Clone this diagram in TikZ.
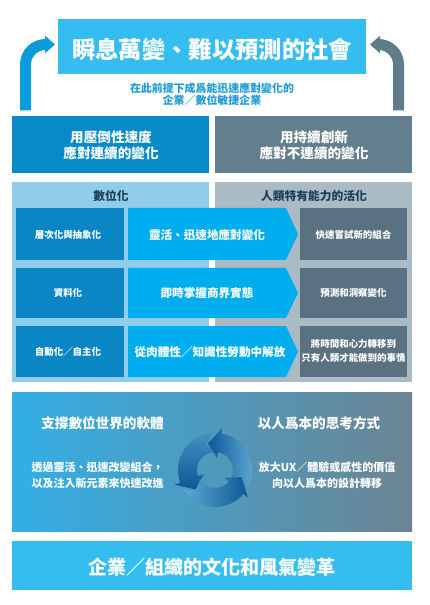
\documentclass[tikz,border=0pt]{standalone}
\usepackage{fontspec}
\setmainfont{Noto Sans CJK TC}
\usetikzlibrary{arrows.meta}
\definecolor{skyblue}{HTML}{35BDEF}
\definecolor{arrowblue}{HTML}{0A9BDB}
\definecolor{arrowgray}{HTML}{607C8B}
\definecolor{subblue}{HTML}{1E9BD7}
\definecolor{deepblue}{HTML}{0889C8}
\definecolor{slate}{HTML}{637E8C}
\definecolor{paleblue}{HTML}{8FCDEB}
\definecolor{palegray}{HTML}{AABBC5}
\definecolor{headtext}{HTML}{1F3F58}
\definecolor{rowblue}{HTML}{0A86C4}
\definecolor{chevron}{HTML}{00ADEE}
\definecolor{rowgray}{HTML}{5A7181}
\definecolor{cycdark}{HTML}{0B5796}
\definecolor{cyclight}{HTML}{5FA9D2}

\tikzset{every picture/.style={line width=0.75pt}}
\tikzset{
  wtext/.style={inner sep=0.75pt, text=white, align=center, font=\bfseries},
  uparrow/.style={line width=8.25pt, rounded corners=15pt, -{Triangle[length=7.5pt,width=12.75pt]}}
}

\begin{document}
\begin{tikzpicture}[x=0.75pt,y=0.75pt,yscale=-1,xscale=1]
\path[use as bounding box] (0,0) rectangle (429,605);
%Shape: Rectangle (title)
\fill [skyblue] (58,19) rectangle (366,74);
%Curve Lines (left up arrow)
\coordinate (la0) at (25.5,110.5);
\coordinate (la1) at (25.5,44.5);
\coordinate (la2) at (55,44.5);
\draw [uparrow, arrowblue] (la0) -- (la1) -- (la2);
%Curve Lines (right up arrow)
\coordinate (ra0) at (398.5,110.5);
\coordinate (ra1) at (398.5,44.5);
\coordinate (ra2) at (370,44.5);
\draw [uparrow, arrowgray] (ra0) -- (ra1) -- (ra2);
%Shape: Rectangle (two ways)
\fill [deepblue] (12,116) rectangle (209,173);
\fill [slate] (215,116) rectangle (412,173);
%Shape: Rectangle (panels)
\fill [paleblue] (12,182) rectangle (209,382);
\fill [palegray] (215,182) rectangle (412,382);
%Shape: Rectangle (left rows)
\fill [rowblue] (16,208) rectangle (124,260);
\fill [rowblue] (16,268) rectangle (124,318);
\fill [rowblue] (16,326) rectangle (124,377);
%Shape: Rectangle (right rows)
\fill [rowgray] (300,208) rectangle (407,260);
\fill [rowgray] (300,268) rectangle (407,318);
\fill [rowgray] (300,326) rectangle (407,377);
%Shape: Chevrons
\fill [chevron] (128,208) -- (286,208) -- (298,234) -- (286,260) -- (128,260) -- cycle ;
\fill [chevron] (128,268) -- (286,268) -- (298,293) -- (286,318) -- (128,318) -- cycle ;
\fill [chevron] (128,326) -- (286,326) -- (298,351.5) -- (286,377) -- (128,377) -- cycle ;
%Shape: Rectangle (gradient panel)
\shade [left color={rgb,255:red,50;green,175;blue,230}, middle color={rgb,255:red,62;green,166;blue,207}, right color={rgb,255:red,108;green,132;blue,146}] (12,392) rectangle (412,531);
%Shape: Cycle arrows
\begin{scope}[shift={(215,470)},yscale=-1]
\shade [left color=cycdark, right color=cyclight] (-27:37) arc[start angle=-27, end angle=80, radius=37] -- (80:43) -- (105:27.5) -- (80:12) -- (80:18) arc[start angle=80, end angle=-27, radius=18] -- (-11:27.5) -- cycle ;
\shade [top color=cyclight!70!cycdark, bottom color=cycdark] (93:37) arc[start angle=93, end angle=200, radius=37] -- (200:43) -- (225:27.5) -- (200:12) -- (200:18) arc[start angle=200, end angle=93, radius=18] -- (109:27.5) -- cycle ;
\shade [left color=cyclight, right color=cycdark] (213:37) arc[start angle=213, end angle=320, radius=37] -- (320:43) -- (345:27.5) -- (320:12) -- (320:18) arc[start angle=320, end angle=213, radius=18] -- (229:27.5) -- cycle ;
\end{scope}
%Shape: Rectangle (bottom)
\fill [skyblue] (12,541) rectangle (412,590);

% Text Node
\draw (212,50) node (title) [wtext, font=\bfseries\fontsize{17.5pt}{20pt}\selectfont] {瞬息萬變、難以預測的社會};
% Text Node
\draw (212,94) node (premise) [wtext, text=subblue, font=\bfseries\fontsize{8.2pt}{9pt}\selectfont] {在此前提下成爲能迅速應對變化的\\企業／數位敏捷企業};
% Text Node
\draw (111,145) node (speed) [wtext, font=\bfseries\fontsize{10.2pt}{12pt}\selectfont] {用壓倒性速度\\應對連續的變化};
% Text Node
\draw (314,145) node (innov) [wtext, font=\bfseries\fontsize{10.2pt}{12pt}\selectfont] {用持續創新\\應對不連續的變化};
% Text Node
\draw (111,196) node (digi) [wtext, text=headtext, font=\bfseries\fontsize{8.8pt}{10pt}\selectfont] {數位化};
% Text Node
\draw (314,196) node (human) [wtext, text=headtext, font=\bfseries\fontsize{8.8pt}{10pt}\selectfont] {人類特有能力的活化};
% Text Node
\draw (68,235) node (layer) [wtext, font=\bfseries\fontsize{7.1pt}{9pt}\selectfont] {層次化與抽象化};
% Text Node
\draw (68,293) node (data) [wtext, font=\bfseries\fontsize{7.1pt}{9pt}\selectfont] {資料化};
% Text Node
\draw (68,352) node (auto) [wtext, font=\bfseries\fontsize{7.1pt}{9pt}\selectfont] {自動化／自主化};
% Text Node
\draw (207,235) node (agile) [wtext, font=\bfseries\fontsize{8.7pt}{10pt}\selectfont] {靈活、迅速地應對變化};
% Text Node
\draw (207,293) node (grasp) [wtext, font=\bfseries\fontsize{8.7pt}{10pt}\selectfont] {即時掌握商界實態};
% Text Node
\draw (210,352) node (free) [wtext, font=\bfseries\fontsize{8.7pt}{10pt}\selectfont] {從肉體性／知識性勞動中解放};
% Text Node
\draw (353.5,235) node (try) [wtext, font=\bfseries\fontsize{7.1pt}{9pt}\selectfont] {快速嘗試新的組合};
% Text Node
\draw (353.5,293) node (predict) [wtext, font=\bfseries\fontsize{7.1pt}{9pt}\selectfont] {預測和洞察變化};
% Text Node
\draw (353.5,351) node (shift) [wtext, font=\bfseries\fontsize{7.1pt}{10.5pt}\selectfont] {將時間和心力轉移到\\只有人類才能做到的事情};
% Text Node
\draw (102.5,423) node (soft) [wtext, font=\bfseries\fontsize{10.2pt}{12pt}\selectfont] {支撐數位世界的軟體};
% Text Node
\draw (319,423) node (think) [wtext, font=\bfseries\fontsize{10.2pt}{12pt}\selectfont] {以人爲本的思考方式};
% Text Node
\draw (97.5,475) node (combine) [wtext, font=\bfseries\fontsize{8.25pt}{12pt}\selectfont] {透過靈活、迅速改變組合，\\以及注入新元素來快速改進};
% Text Node
\draw (327,475) node (ux) [wtext, font=\bfseries\fontsize{8.25pt}{12pt}\selectfont] {放大UX／體驗或感性的價值\\向以人爲本的設計轉移};
% Text Node
\draw (212,567) node (culture) [wtext, font=\bfseries\fontsize{14.3pt}{16pt}\selectfont] {企業／組織的文化和風氣變革};
\end{tikzpicture}
\end{document}
